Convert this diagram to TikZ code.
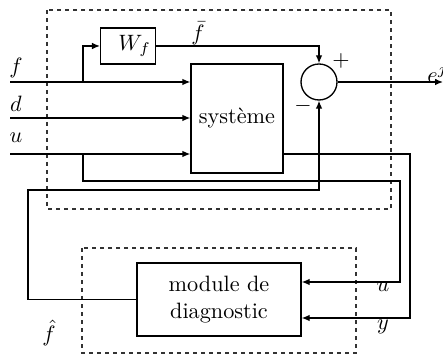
\documentclass[tikz,border=0pt]{standalone}
\usepackage{amsmath,amssymb}
\usetikzlibrary{arrows.meta,positioning,calc}
\tikzset{
  blockbox/.style={draw,line width=0.6pt,inner sep=2pt,align=center,font=\normalsize},
  sumcirc/.style={draw,circle,line width=0.6pt,minimum size=16.2pt,inner sep=0pt},
  sigline/.style={line width=0.6pt},
  sigarr/.style={-{Latex[length=3.6pt,width=3pt]},line width=0.6pt},
  framebox/.style={dashed,line width=0.5pt,draw=black!80,dash pattern=on 2pt off 1.6pt},
  siglabel/.style={font=\normalsize,inner sep=0pt}
}
\begin{document}
\begin{tikzpicture}[x=0.45pt,y=-0.45pt]
  \useasboundingbox (0,0) rectangle (443,354);
  % cadres en pointilles
  \draw[framebox] (47,10) rectangle (391,209);
  \draw[framebox] (82,248) rectangle (356,353);
  % blocs
  \node[blockbox,minimum width=24.3pt,minimum height=16.2pt] (wf) at (128,46) {\hspace*{6pt}$W_f$};
  \node[blockbox,minimum width=41.4pt,minimum height=49pt] (sys) at (237,118.5) {syst\`eme};
  \node[sumcirc] (sum) at (319,82) {};
  \node[blockbox,minimum width=73.8pt,minimum height=32.9pt] (diag) at (219,299.5) {module de\\diagnostic};
  % points
  \coordinate (fin) at (10,82);
  \coordinate (din) at (10,118);
  \coordinate (uin) at (10,154);
  \coordinate (fbr) at (83,82);
  \coordinate (ubr) at (83,154);
  \coordinate (eout) at (443,82);
  \coordinate (uret) at (400,282);
  \coordinate (yret) at (410,318);
  \coordinate (fhat) at (28,190);
  % signaux
  \draw[sigarr] (fin) -- (sys.west |- fin);
  \draw[sigarr] (din) -- (sys.west |- din);
  \draw[sigarr] (uin) -- (sys.west |- uin);
  \draw[sigarr] (fbr) |- (wf.west);
  \draw[sigarr] (wf.east) -| (sum.north);
  \draw[sigarr] (sum.east) -- (eout);
  \draw[sigarr] (ubr) |- (uret |- 0,181) -- (uret) -- (diag.east |- uret);
  \draw[sigarr] (sys.east |- uin) -| (yret) -- (diag.east |- yret);
  \draw[sigarr] (diag.west) -| (fhat) -| (sum.south);
  % etiquettes
  \node[siglabel] (lf) at (16,68) {$f$};
  \node[siglabel] (ld) at (16,104) {$d$};
  \node[siglabel] (lu) at (16,138) {$u$};
  \node[siglabel] (lfb) at (198,33) {$\bar{f}$};
  \node[siglabel] (lplus) at (341,61) {$+$};
  \node[siglabel] (lminus) at (303,106) {$-$};
  \node[siglabel,anchor=west] (le) at (427,73) {$e^j$};
  \node[siglabel] (lu2) at (383,287) {$u$};
  \node[siglabel] (ly) at (383,327) {$y$};
  \node[siglabel] (lfh) at (49,333) {$\hat{f}$};
\end{tikzpicture}
\end{document}
